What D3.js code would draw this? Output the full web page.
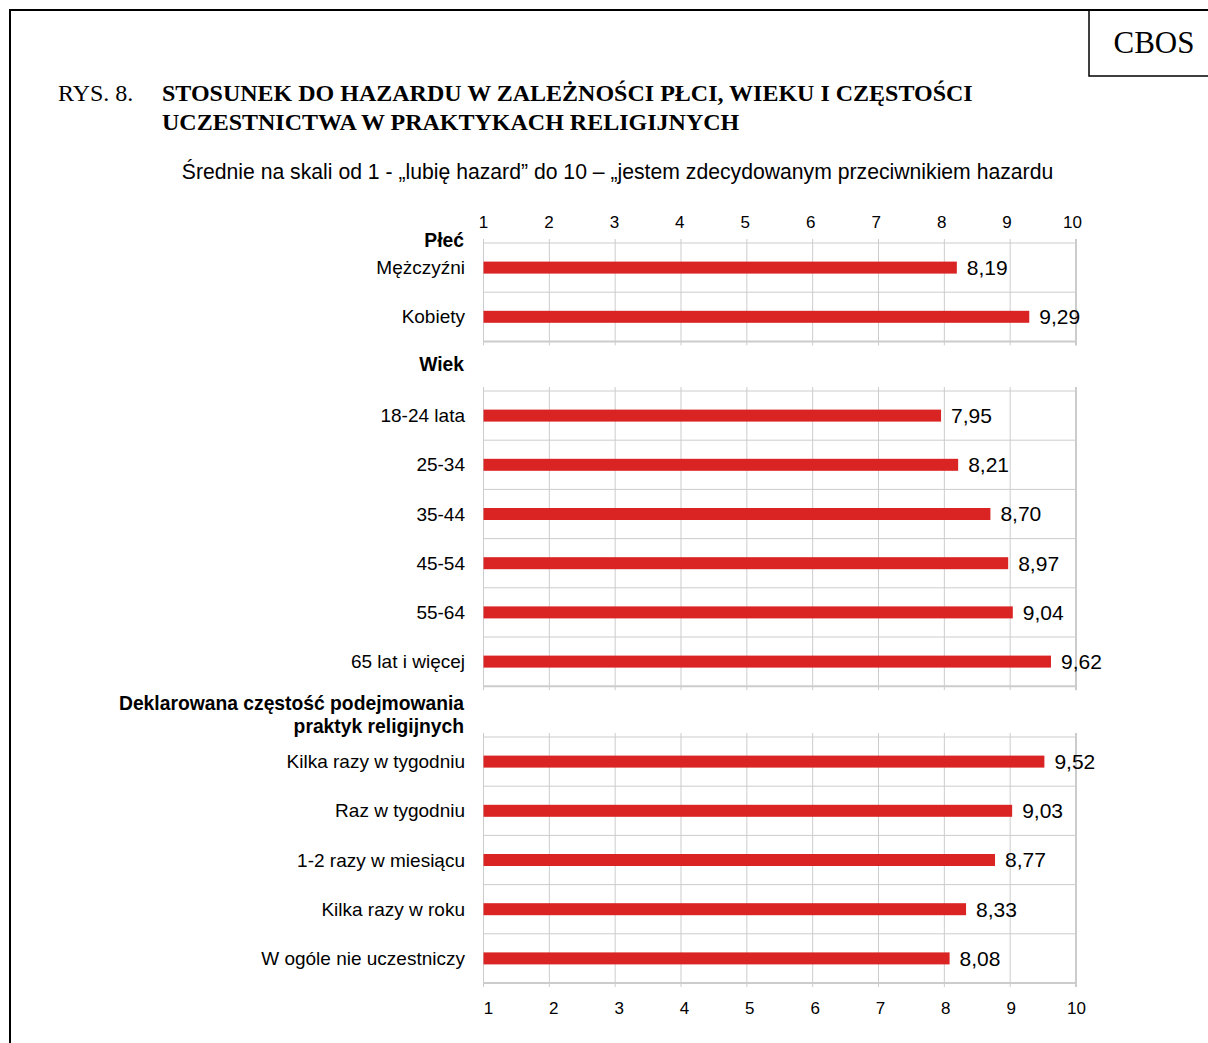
<!DOCTYPE html>
<html>
<head>
<meta charset="utf-8">
<script src="https://cdn.jsdelivr.net/npm/d3@7"></script>
<style>
  body { margin: 0; background: #fff; }
  svg { display: block; }
</style>
</head>
<body>
<div id="chart"></div>
<script>
// data
var ticks = [1, 2, 3, 4, 5, 6, 7, 8, 9, 10];

var plecLabels = ["Mężczyźni", "Kobiety"];
var plecValues = [8.19, 9.29];

var wiekLabels = ["18-24 lata", "25-34", "35-44", "45-54", "55-64", "65 lat i więcej"];
var wiekValues = [7.95, 8.21, 8.70, 8.97, 9.04, 9.62];

var praktykiLabels = ["Kilka razy w tygodniu", "Raz w tygodniu", "1-2 razy w miesiącu", "Kilka razy w roku", "W ogóle nie uczestniczy"];
var praktykiValues = [9.52, 9.03, 8.77, 8.33, 8.08];

var groupTitles = [["Płeć"], ["Wiek"], ["Deklarowana częstość podejmowania", "praktyk religijnych"]];

// canvas
var svgWidth = 1208;
var svgHeight = 1043;

var svg = d3.select("#chart")
    .append("svg")
    .attr("width", svgWidth)
    .attr("height", svgHeight);

// page frame + CBOS box
svg.append("path")
    .attr("d", "M10,1043 V10 H1208")
    .attr("fill", "none")
    .attr("stroke", "#000")
    .attr("stroke-width", 2);

svg.append("rect")
    .attr("x", 1089).attr("y", 10)
    .attr("width", 140).attr("height", 66)
    .attr("fill", "none")
    .attr("stroke", "#000")
    .attr("stroke-width", 1.5);

var serif = "'Liberation Serif', 'Times New Roman', serif";
var sans = "'Liberation Sans', Arial, sans-serif";

svg.append("text")
    .attr("x", 1154).attr("y", 53)
    .attr("text-anchor", "middle")
    .style("font-family", serif)
    .style("font-size", "31px")
    .text("CBOS");

// title
svg.append("text")
    .attr("x", 58).attr("y", 101)
    .style("font-family", serif).style("font-size", "24px")
    .text("RYS. 8.");

var titleLines = ["STOSUNEK DO HAZARDU W ZALEŻNOŚCI PŁCI, WIEKU I CZĘSTOŚCI", "UCZESTNICTWA W PRAKTYKACH RELIGIJNYCH"];
svg.selectAll(".title")
    .data(titleLines)
    .enter().append("text")
    .attr("class", "title")
    .attr("x", 162)
    .attr("y", (d, i) => 101 + i * 29)
    .style("font-family", serif).style("font-size", "24px").style("font-weight", "bold")
    .text(d => d);

svg.append("text")
    .attr("x", 617.5).attr("y", 172)
    .attr("dy", "0.35em")
    .attr("text-anchor", "middle")
    .style("font-family", sans).style("font-size", "21.2px")
    .text("Średnie na skali od 1 - „lubię hazard” do 10 – „jestem zdecydowanym przeciwnikiem hazardu");

// x scale
var xScale = d3.scaleLinear()
    .domain([1, 10])
    .range([483.5, 1076]);

var rowH = 49.2;
var panels = [
    { title: groupTitles[0], titleY: [240], labels: plecLabels, values: plecValues, top: 243 },
    { title: groupTitles[1], titleY: [364], labels: wiekLabels, values: wiekValues, top: 391 },
    { title: groupTitles[2], titleY: [703, 726], labels: praktykiLabels, values: praktykiValues, top: 737 }
];

var labelRight = 465;
var barH = 12;
var gridColor = "#cccccc";

panels.forEach(function(p) {
    var bottom = p.top + p.labels.length * rowH;
    var yScale = d3.scaleBand()
        .domain(p.labels)
        .range([p.top, bottom]);

    var g = svg.append("g");

    // vertical gridlines
    g.selectAll(".vgrid")
        .data(ticks)
        .enter().append("line")
        .attr("x1", d => xScale(d)).attr("x2", d => xScale(d))
        .attr("y1", p.top - 4).attr("y2", bottom + 4)
        .attr("stroke", gridColor)
        .attr("stroke-width", d => d === 10 ? 2 : 1);

    // horizontal gridlines at row boundaries
    var edges = p.labels.map(d => yScale(d)).concat([bottom]);
    g.selectAll(".hgrid")
        .data(edges)
        .enter().append("line")
        .attr("x1", xScale(1)).attr("x2", xScale(10))
        .attr("y1", d => d).attr("y2", d => d)
        .attr("stroke", gridColor)
        .attr("stroke-width", (d, i) => i === edges.length - 1 ? 2 : 1);

    // bars
    g.selectAll(".bar")
        .data(p.values)
        .enter().append("rect")
        .attr("x", xScale(1))
        .attr("y", (d, i) => yScale(p.labels[i]) + yScale.bandwidth() / 2 - barH / 2)
        .attr("width", d => xScale(d) - xScale(1))
        .attr("height", barH)
        .attr("fill", "#da2424");

    // value labels
    g.selectAll(".val")
        .data(p.values)
        .enter().append("text")
        .attr("x", d => xScale(d) + 10)
        .attr("y", (d, i) => yScale(p.labels[i]) + yScale.bandwidth() / 2)
        .attr("dy", "0.35em")
        .style("font-family", sans).style("font-size", "21px")
        .text(d => d.toFixed(2).replace(".", ","));

    // category labels
    g.selectAll(".cat")
        .data(p.labels)
        .enter().append("text")
        .attr("x", labelRight)
        .attr("y", d => yScale(d) + yScale.bandwidth() / 2)
        .attr("dy", "0.35em")
        .attr("text-anchor", "end")
        .style("font-family", sans).style("font-size", "19px")
        .text(d => d);

    // group heading
    g.selectAll(".head")
        .data(p.title)
        .enter().append("text")
        .attr("x", labelRight - 1)
        .attr("y", (d, i) => p.titleY[i])
        .attr("dy", "0.35em")
        .attr("text-anchor", "end")
        .style("font-family", sans).style("font-size", "19.3px").style("font-weight", "bold")
        .text(d => d);
});

// top and bottom axes (label positions drift slightly from the gridlines in the original)
var topScale = xScale.copy().range([483, 1072]);
var botScale = xScale.copy().range([488, 1076]);
var topAxis = d3.axisTop(topScale).tickValues(ticks).tickSize(0).tickPadding(0);
var bottomAxis = d3.axisBottom(botScale).tickValues(ticks).tickSize(0).tickPadding(0);

var topG = svg.append("g")
    .attr("transform", "translate(0, 228)")
    .call(topAxis);
var botG = svg.append("g")
    .attr("transform", "translate(0, 1002)")
    .call(bottomAxis);

[topG, botG].forEach(function(a) {
    a.select(".domain").remove();
    a.selectAll("text")
        .style("font-family", sans)
        .style("font-size", "17px")
        .attr("fill", "#000");
});
</script>
</body>
</html>
